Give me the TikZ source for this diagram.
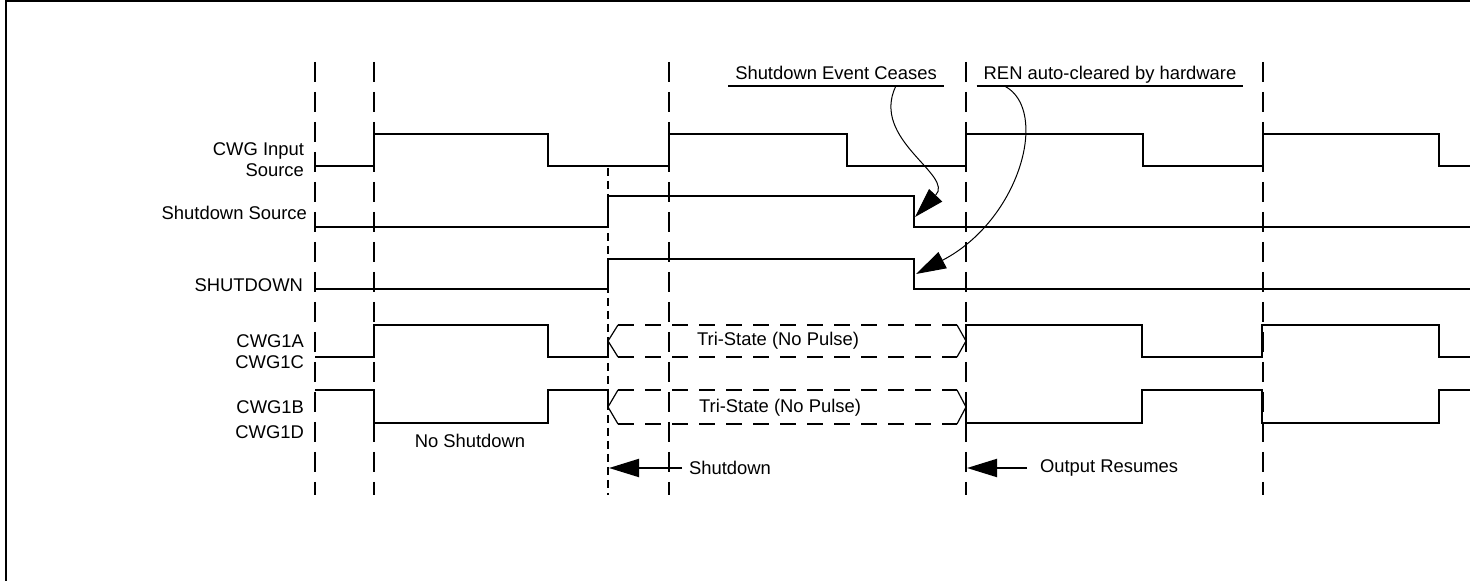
\documentclass[tikz,border=0pt]{standalone}
\usepackage{fontspec}
\setmainfont{Liberation Sans}
\usetikzlibrary{arrows.meta}

\begin{document}
\begin{tikzpicture}[x=0.5pt, y=-0.5pt, font=\fontsize{9.2}{10.5}\selectfont,
  sig/.style={line width=1.2pt},
  grid/.style={line width=1pt, dash pattern=on 10pt off 5pt},
  fine/.style={line width=1pt, dash pattern=on 4pt off 2.5pt},
  tri/.style={line width=1pt, dash pattern=on 8pt off 5.5pt},
  lbl/.style={anchor=east, align=right},
  bigarr/.style={line width=1pt, -{Triangle[length=15pt, width=9pt]}},
  curv/.style={line width=0.5pt, -{Triangle[length=15pt, width=9pt]}}]
  \useasboundingbox (0,0) rectangle (1470,581);
  \draw[line width=1.2pt] (6.2,581) -- (6.2,1.2) -- (1470,1.2);

  % time marks
  \draw[grid] (315,62) -- (315,495);
  \draw[grid] (374,62) -- (374,495);
  \draw[grid] (669,62) -- (669,495);
  \draw[grid] (966,62) -- (966,495);
  \draw[grid] (1263,62) -- (1263,495);
  \draw[fine] (608,168) -- (608,495);

  % signal names
  \node[lbl] (inp) at (311,160) {CWG Input\\Source};
  \node[lbl] (src) at (314,213) {Shutdown Source};
  \node[lbl] (shdn) at (310,285) {SHUTDOWN};
  \node[lbl] (ac) at (311,352) {CWG1A\\CWG1C};
  \node[lbl] (bd) at (311,420) {CWG1B\\[2pt]CWG1D};

  % waveforms
  \draw[sig] (315,166) -| (374,134) -| (548,166) -| (669,134) -| (847,166) -| (966,134)
    -| (1143,166) -| (1263,134) -| (1439,166) -- (1470,166);
  \draw[sig] (315,227) -| (608,196) -| (914,227) -- (1470,227);
  \draw[sig] (315,289) -| (608,259) -| (914,289) -- (1470,289);
  \draw[sig] (315,357) -| (374,325) -| (548,357) -- (608,357) -- (608,341);
  \draw[sig] (966,341) -- (966,325) -| (1142,357) -| (1262,325) -| (1439,357) -- (1470,357);
  \draw[sig] (315,390) -| (374,423) -| (548,390) -- (608,390) -- (608,407);
  \draw[sig] (966,407) -- (966,423) -| (1142,390) -| (1262,423) -| (1439,390) -- (1470,390);

  % tri-state
  \draw[tri] (618,325) -- (957,325);
  \draw[tri] (618,357) -- (957,357);
  \draw[tri] (618,390) -- (957,390);
  \draw[tri] (618,424) -- (957,424);
  \draw[line width=0.6pt] (618,325) -- (608,341) -- (618,357);
  \draw[line width=0.6pt] (957,325) -- (966,341) -- (957,357);
  \draw[line width=0.6pt] (618,390) -- (608,407) -- (618,424);
  \draw[line width=0.6pt] (957,390) -- (966,407) -- (957,424);
  \node (tri1) at (778,341) {Tri-State (No Pulse)};
  \node (tri2) at (780,408) {Tri-State (No Pulse)};

  \node (noshd) at (470,441) {No Shutdown};

  % events
  \coordinate (shdtip) at (609,468);
  \coordinate (restip) at (967,468);
  \node[anchor=west] (shd) at (682,468) {Shutdown};
  \node[anchor=west] (res) at (1033,468) {Output Resumes};
  \draw[bigarr] (shd.west) -- (shdtip);
  \draw[bigarr, shorten <=3pt] (res.west) -- (restip);

  \node[text depth=2pt, inner ysep=1pt] (ev) at (836,75) {Shutdown Event Ceases};
  \node[text depth=2pt, inner ysep=1pt] (ren) at (1110,75) {REN auto-cleared by hardware};
  \draw[line width=1pt] (ev.south west) -- (ev.south east);
  \draw[line width=1pt] (ren.south west) -- (ren.south east);
  \coordinate (evtip) at (915,217);
  \coordinate (rentip) at (916,274);
  \draw[curv] ([xshift=-24pt]ev.south east) .. controls (870,140) and (955,175) .. (evtip);
  \draw[curv] ([xshift=14pt]ren.south west) .. controls (1050,110) and (1020,220) .. (rentip);
\end{tikzpicture}
\end{document}
